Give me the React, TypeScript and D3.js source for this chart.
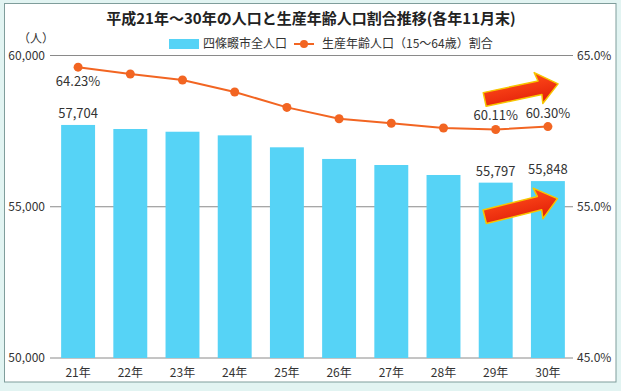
import * as d3 from "d3";

const years = ["21年", "22年", "23年", "24年", "25年", "26年", "27年", "28年", "29年", "30年"];
const population = [57704, 57570, 57480, 57360, 56965, 56580, 56380, 56050, 55797, 55848];
const workingRatio = [64.23, 63.78, 63.38, 62.59, 61.57, 60.82, 60.52, 60.21, 60.11, 60.3];
const leftTicks = [50000, 55000, 60000];
const rightTicks = [45, 55, 65];
// only these are printed on the chart
const popLabelIdx = [0, 8, 9];
const ratioLabelIdx = [0, 8, 9];

const W = 621;
const H = 391;
const FONT = "'Noto Sans CJK JP', 'Noto Sans', sans-serif";
const BAR = "#56d3f6";
const LINE = "#f26522";
const TXT = "#333";

// arrow, tail at origin pointing right
const ARROW = "M0,-7 L56,-7 L54,-16 L75,0 L56,16 L57,7 L0,7 Z";

export default function App() {
  const x = d3.scaleBand<string>().domain(years).range([52, 574]).paddingInner(0.35).paddingOuter(0.175);
  const yL = d3.scaleLinear().domain([50000, 60000]).range([358, 55.5]);
  const yR = d3.scaleLinear().domain([45, 65]).range([358, 55.5]);
  const fmt = d3.format(",");
  const cx = (i: number) => (x(years[i]) ?? 0) + x.bandwidth() / 2;

  const line = d3
    .line<number>()
    .x((_, i) => cx(i))
    .y((d) => yR(d));

  const [x0, x1] = [50, 573];
  const i29 = 8;

  return (
    <div style={{ position: "absolute", left: 0, top: 0 }}>
      <svg width={W} height={H} style={{ display: "block", fontFamily: FONT }}>
        <defs>
          <linearGradient id="arr" x1="0" y1="0" x2="0" y2="1">
            <stop offset="0" stopColor="#ff4a1a" />
            <stop offset="1" stopColor="#e01e08" />
          </linearGradient>
        </defs>
        <rect x={0} y={0} width={W} height={H} fill="#e2f4f2" />
        <rect x={4.5} y={3.5} width={611.5} height={378.5} fill="#fff" stroke="#7f9d9b" strokeWidth={1} />

        <text x={311} y={24} textAnchor="middle" fontSize={15} fontWeight="bold" fill="#222">
          平成21年～30年の人口と生産年齢人口割合推移(各年11月末)
        </text>

        {/* legend */}
        <rect x={169} y={39} width={30} height={10} fill={BAR} />
        <text x={203} y={48} fontSize={12} fill={TXT}>四條畷市全人口</text>
        <line x1={294} x2={314} y1={44} y2={44} stroke={LINE} strokeWidth={2} />
        <circle cx={304} cy={44} r={4} fill={LINE} />
        <text x={322} y={48} fontSize={12} fill={TXT}>生産年齢人口（15～64歳）割合</text>

        <text x={36} y={43} textAnchor="middle" fontSize={12} fill={TXT}>（人）</text>

        {/* axes / grid */}
        {leftTicks.map((t) => (
          <g key={t}>
            <line x1={x0} x2={x1} y1={yL(t)} y2={yL(t)} stroke="#8a8a8a" strokeWidth={1} />
            <text x={45} y={yL(t) + 4} textAnchor="end" fontSize={12} fill={TXT}>
              {fmt(t)}
            </text>
          </g>
        ))}
        {rightTicks.map((t) => (
          <text key={t} x={577} y={yR(t) + 4} fontSize={12} fill={TXT}>
            {t.toFixed(1)}%
          </text>
        ))}

        {/* bars */}
        {population.map((v, i) => (
          <rect
            key={years[i]}
            x={x(years[i])}
            y={yL(v)}
            width={x.bandwidth()}
            height={yL(50000) - yL(v)}
            fill={BAR}
          />
        ))}
        {years.map((yr, i) => (
          <text key={yr} x={cx(i)} y={377} textAnchor="middle" fontSize={12} fill={TXT}>
            {yr}
          </text>
        ))}
        {popLabelIdx.map((i) => (
          <text key={i} x={cx(i)} y={yL(population[i]) - 7} textAnchor="middle" fontSize={13} fill={TXT}>
            {fmt(population[i])}
          </text>
        ))}

        {/* ratio line */}
        <path d={line(workingRatio) ?? ""} fill="none" stroke={LINE} strokeWidth={2} />
        {workingRatio.map((v, i) => (
          <circle key={i} cx={cx(i)} cy={yR(v)} r={4.5} fill={LINE} />
        ))}
        {ratioLabelIdx.map((i) =>
          i === 0 ? (
            <text key={i} x={cx(i)} y={yR(workingRatio[i]) + 19} textAnchor="middle" fontSize={13} fill={TXT}>
              {workingRatio[i].toFixed(2)}%
            </text>
          ) : (
            <text key={i} x={cx(i)} y={yR(workingRatio[i]) - 9} textAnchor="middle" fontSize={13} fill={TXT}>
              {workingRatio[i].toFixed(2)}%
            </text>
          )
        )}

        {/* upward arrows */}
        <path
          d={ARROW}
          transform={`translate(${cx(i29) - 11},${yR(workingRatio[i29]) - 30}) rotate(-12)`}
          fill="url(#arr)"
          stroke="#f7c600"
          strokeWidth={1.5}
          strokeLinejoin="round"
        />
        <path
          d={ARROW}
          transform={`translate(${cx(i29) - 11},${yL(55000) + 10}) rotate(-14)`}
          fill="url(#arr)"
          stroke="#f7c600"
          strokeWidth={1.5}
          strokeLinejoin="round"
        />
      </svg>
    </div>
  );
}
